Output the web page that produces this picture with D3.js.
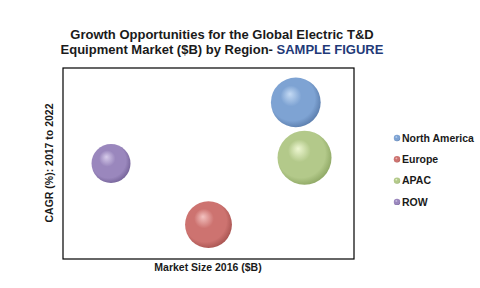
<!DOCTYPE html>
<html><head><meta charset="utf-8">
<script src="https://cdn.jsdelivr.net/npm/d3@7"></script>
<style>body{margin:0;background:#fff}svg{display:block}text{font-family:"Liberation Sans",Arial,sans-serif}</style>
</head><body><svg id="c" width="480" height="288"></svg>
<script>
const regions = ["North America", "Europe", "APAC", "ROW"];
const marketSize = [8.0, 5.0, 8.3, 1.65];   // x (relative, no ticks shown)
const cagr = [8.2, 1.8, 5.3, 5.0];           // y (relative, no ticks shown)
const bubbleSize = [62, 55, 73, 38];          // bubble area value
const baseColors = ["#7ea3d3", "#cd7370", "#b3c98a", "#9a87bd"];
const lightColors = ["#c4daf4", "#f3c2c0", "#eef7d2", "#d6cbea"];
const darkColors = ["#5577a6", "#a24f4c", "#88a25e", "#6f5d93"];

const svg = d3.select("#c");
const m = {l: 63, r: 354, t: 68, b: 259};
const x = d3.scaleLinear().domain([0, 10]).range([m.l, m.r]);
const y = d3.scaleLinear().domain([0, 10]).range([m.b, m.t]);
const r = d3.scaleSqrt().domain([0, 100]).range([0, 31.6]);

const defs = svg.append("defs");
regions.forEach((d, i) => {
  const g = defs.append("radialGradient").attr("id", "g" + i)
    .attr("cx", "45%").attr("cy", "45%").attr("r", "60%")
    .attr("fx", "38%").attr("fy", "33%");
  g.append("stop").attr("offset", "0%").attr("stop-color", lightColors[i]);
  g.append("stop").attr("offset", "35%").attr("stop-color", baseColors[i]);
  g.append("stop").attr("offset", "75%").attr("stop-color", baseColors[i]);
  g.append("stop").attr("offset", "100%").attr("stop-color", darkColors[i]);
});

svg.append("rect").attr("x", m.l).attr("y", m.t)
  .attr("width", m.r - m.l).attr("height", m.b - m.t)
  .attr("fill", "#fff").attr("stroke", "#000").attr("stroke-width", 1.2);

svg.append("g").selectAll("circle").data(regions).join("circle")
  .attr("cx", (d, i) => x(marketSize[i]))
  .attr("cy", (d, i) => y(cagr[i]))
  .attr("r", (d, i) => r(bubbleSize[i]))
  .attr("fill", (d, i) => `url(#g${i})`);

const title = svg.append("text").attr("text-anchor", "middle")
  .attr("font-size", 13).attr("font-weight", "bold").attr("fill", "#1a1a1a");
title.append("tspan").attr("x", 222).attr("y", 39).text("Growth Opportunities  for the Global Electric T&D");
const l2 = title.append("tspan").attr("x", 222).attr("y", 54);
l2.append("tspan").text("Equipment Market ($B)  by Region- ");
l2.append("tspan").attr("fill", "#1f3a78").text("SAMPLE FIGURE");

svg.append("text").attr("x", 208).attr("y", 271).attr("text-anchor", "middle")
  .attr("font-size", 10.5).attr("font-weight", "bold").attr("fill", "#1a1a1a")
  .text("Market Size 2016 ($B)");

svg.append("text").attr("transform", "translate(53,163) rotate(-90)")
  .attr("text-anchor", "middle").attr("font-size", 10.5).attr("font-weight", "bold")
  .attr("fill", "#1a1a1a").text("CAGR (%): 2017 to 2022");

const leg = svg.append("g").selectAll("g").data(regions).join("g")
  .attr("transform", (d, i) => `translate(397,${138 + i * 21.3})`);
leg.append("circle").attr("r", 3.2).attr("fill", (d, i) => `url(#g${i})`);
leg.append("text").attr("x", 5).attr("y", 3.8).attr("font-size", 10.5)
  .attr("font-weight", "bold").attr("fill", "#1a1a1a").text(d => d);
</script></body></html>
